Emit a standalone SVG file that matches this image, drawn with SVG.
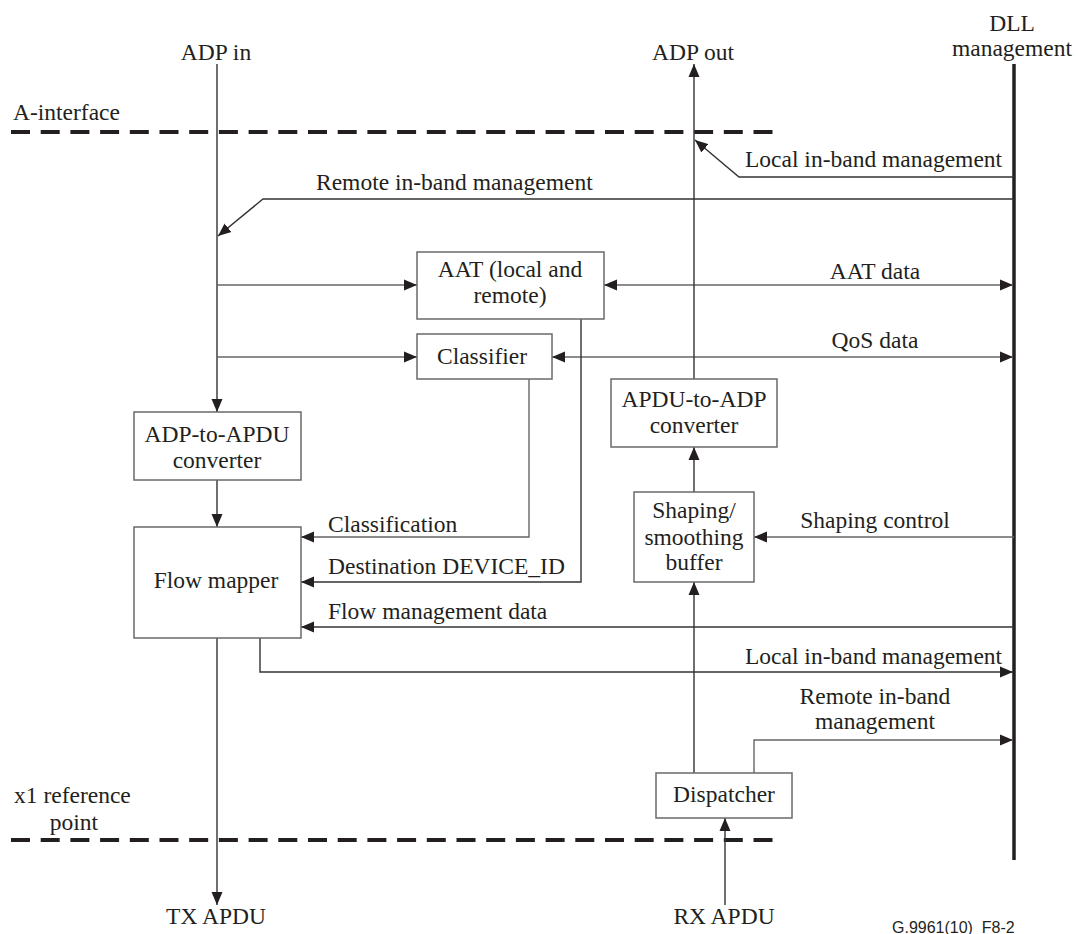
<svg xmlns="http://www.w3.org/2000/svg" width="1078" height="934" viewBox="0 0 1078 934" font-family="'Liberation Serif', 'Times New Roman', 'DejaVu Serif', serif">
<style>
text{font-family:'Liberation Serif','Times New Roman','DejaVu Serif',serif;font-size:23.5px;fill:#231f20}
.c{text-anchor:middle}
.box{fill:#fff;stroke:#6a6a6a;stroke-width:1.5}
.ln{fill:none;stroke:#333;stroke-width:1.4}
.lg{fill:none;stroke:#666;stroke-width:1.4}
.dash{fill:none;stroke:#231f20;stroke-width:4;stroke-dasharray:19 10.7}
.dll{fill:none;stroke:#231f20;stroke-width:3.5}
text.ref{font-family:'Liberation Sans',Arial,sans-serif;font-size:16px}
</style>
<defs>
<marker id="ah" markerUnits="userSpaceOnUse" markerWidth="13" markerHeight="12" refX="13" refY="5.5" orient="auto-start-reverse" viewBox="0 0 13 11">
<path d="M0,0 L13,5.5 L0,11 z" fill="#231f20"/>
</marker>
</defs>

<g id="interfaces">
<line class="dash" x1="11" y1="132" x2="775" y2="132"/>
<text x="13" y="120">A-interface</text>
<line class="dash" x1="11" y1="840" x2="775" y2="840"/>
<text x="14" y="803">x1 reference</text>
<text class="c" x="74" y="830">point</text>
</g>

<g id="dll">
<line class="dll" x1="1014" y1="64" x2="1014" y2="860"/>
<text class="c" x="1012" y="31">DLL</text>
<text class="c" x="1012" y="56">management</text>
</g>

<g id="labels">
<text class="c" x="216" y="60">ADP in</text>
<text class="c" x="693" y="60">ADP out</text>
<text class="c" x="216" y="924">TX APDU</text>
<text class="c" x="724" y="924">RX APDU</text>
<text class="ref" x="892" y="933">G.9961(10)_F8-2</text>
</g>

<g id="connectors">
<line class="ln" x1="217" y1="64" x2="217" y2="412" marker-end="url(#ah)"/>
<polyline class="ln" points="1014,199 263,199 218,236" marker-end="url(#ah)"/>
<text x="316" y="190">Remote in-band management</text>
<polyline class="ln" points="1014,177 739,177 695,140" marker-end="url(#ah)"/>
<text x="745" y="167">Local in-band management</text>
<line class="lg" x1="217" y1="285" x2="417" y2="285" marker-end="url(#ah)"/>
<line class="lg" x1="217" y1="357" x2="417" y2="357" marker-end="url(#ah)"/>
<line class="lg" x1="604" y1="285" x2="1013" y2="285" marker-start="url(#ah)" marker-end="url(#ah)"/>
<text class="c" x="875" y="279">AAT data</text>
<line class="lg" x1="552" y1="357" x2="1013" y2="357" marker-start="url(#ah)" marker-end="url(#ah)"/>
<text class="c" x="875" y="348">QoS data</text>
<line class="ln" x1="694" y1="379" x2="694" y2="64" marker-end="url(#ah)"/>
<line class="ln" x1="694" y1="492" x2="694" y2="447" marker-end="url(#ah)"/>
<line class="ln" x1="694" y1="773" x2="694" y2="582" marker-end="url(#ah)"/>
<line class="lg" x1="1014" y1="537" x2="754" y2="537" marker-end="url(#ah)"/>
<text class="c" x="875" y="528">Shaping control</text>
<line class="ln" x1="217" y1="480" x2="217" y2="527" marker-end="url(#ah)"/>
<polyline class="lg" points="529,379 529,537 301,537" marker-end="url(#ah)"/>
<text x="328" y="532">Classification</text>
<polyline class="ln" points="581,319 581,582 301,582" marker-end="url(#ah)"/>
<text x="328" y="574">Destination DEVICE_ID</text>
<line class="ln" x1="1014" y1="627" x2="301" y2="627" marker-end="url(#ah)"/>
<text x="328" y="619">Flow management data</text>
<polyline class="ln" points="260,638 260,672 1013,672" marker-end="url(#ah)"/>
<text x="745" y="664">Local in-band management</text>
<polyline class="lg" points="754,773 754,740 1013,740" marker-end="url(#ah)"/>
<text class="c" x="875" y="704">Remote in-band</text>
<text class="c" x="875" y="729">management</text>
<line class="ln" x1="217" y1="638" x2="217" y2="905" marker-end="url(#ah)"/>
<line class="ln" x1="725" y1="905" x2="725" y2="818" marker-end="url(#ah)"/>
</g>

<g id="aat">
<rect class="box" x="417" y="252" width="187" height="67"/>
<text class="c" x="510" y="277">AAT (local and</text>
<text class="c" x="510" y="303">remote)</text>
</g>
<g id="classifier">
<rect class="box" x="417" y="334" width="135" height="45"/>
<text class="c" x="482" y="364">Classifier</text>
</g>
<g id="adp-to-apdu">
<rect class="box" x="134" y="412" width="167" height="68"/>
<text class="c" x="217" y="442">ADP-to-APDU</text>
<text class="c" x="217" y="468">converter</text>
</g>
<g id="flow-mapper">
<rect class="box" x="134" y="527" width="167" height="111"/>
<text class="c" x="216" y="588">Flow mapper</text>
</g>
<g id="apdu-to-adp">
<rect class="box" x="611" y="379" width="166" height="68"/>
<text class="c" x="694" y="407">APDU-to-ADP</text>
<text class="c" x="694" y="433">converter</text>
</g>
<g id="shaping">
<rect class="box" x="634" y="492" width="120" height="90"/>
<text class="c" x="694" y="518">Shaping/</text>
<text class="c" x="694" y="545">smoothing</text>
<text class="c" x="694" y="570">buffer</text>
</g>
<g id="dispatcher">
<rect class="box" x="656" y="773" width="136" height="45"/>
<text class="c" x="724" y="802">Dispatcher</text>
</g>
</svg>
